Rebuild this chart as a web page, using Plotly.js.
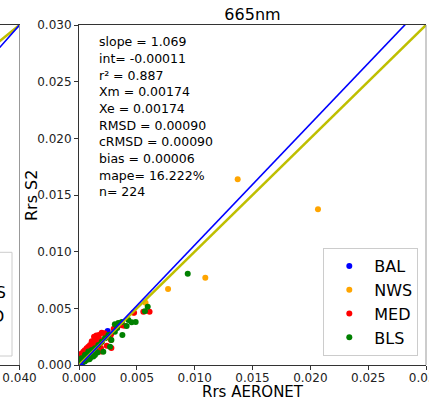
<!DOCTYPE html>
<html>
<head>
<meta charset="utf-8">
<script src="https://cdn.plot.ly/plotly-3.0.1.min.js"></script>
<style>html,body{margin:0;padding:0;background:#fff;}#chart{width:429px;height:401px;}</style>
</head>
<body>
<div id="chart"></div>
<script>
// ---- data ----
const seriesNames = ["BAL", "NWS", "MED", "BLS"];
const seriesColors = ["#0000ff", "#ffa500", "#ff0000", "#008000"];

const balX = [0.00248, 0.0002, 0.0004, 0.0006, 0.0009, 0.0012, 0.0003, 0.0015];
const balY = [0.0030, 0.0003, 0.0005, 0.0005, 0.0008, 0.0011, 0.0002, 0.0014];

const nwsX = [0.01372, 0.02066, 0.01092, 0.0077, 0.00575, 0.0047, 0.0012, 0.0004, 0.0027, 0.0018];
const nwsY = [0.01639, 0.01374, 0.0077, 0.0067, 0.0055, 0.0046, 0.0014, 0.0006, 0.0023, 0.0017];

const medX = [0.0061, 0.00556, 0.00476, 0.0039, 0.0037, 0.00277, 0.00277, 0.0018, 0.0023, 0.00219,
              0.00196, 0.00173, 0.0019, 0.00186, 0.00161, 0.00147, 0.00144, 0.0013, 0.00124, 0.0011,
              0.00095, 0.0008, 0.00066, 0.0005, 0.00037, 0.0002, 0.00009, 0.00005, 0.0019, 0.0024,
              0.0026, 0.0015, 0.0012, 0.0009, 0.00196, 0.0028, 0.0030, 0.00147];
const medY = [0.0047, 0.0047, 0.0046, 0.00347, 0.0035, 0.0027, 0.0022, 0.0013, 0.0025, 0.0028,
              0.00285, 0.00265, 0.00147, 0.0022, 0.00191, 0.00162, 0.00235, 0.0025, 0.00206, 0.0021,
              0.00176, 0.0016, 0.00147, 0.0013, 0.00117, 0.0010, 0.00088, 0.0006, 0.0012, 0.0017,
              0.0026, 0.0026, 0.0018, 0.0014, 0.00206, 0.0015, 0.0032, 0.0022];

const blsX = [0.0094, 0.00594, 0.0057, 0.0049, 0.00455, 0.00427, 0.00412, 0.00375, 0.0034, 0.0033,
              0.0031, 0.00268, 0.00254, 0.00225, 0.0021, 0.00196, 0.00167, 0.00138, 0.00138, 0.00124,
              0.0011, 0.00095, 0.00081, 0.00066, 0.00052, 0.00023, 0.00002, 0.0037, 0.0028, 0.0016,
              0.0005, 0.0009, 0.0031];
const blsY = [0.00806, 0.00515, 0.00474, 0.0038, 0.00377, 0.00397, 0.00344, 0.00265, 0.0037, 0.00326,
              0.00294, 0.00162, 0.00265, 0.00235, 0.00117, 0.00206, 0.00176, 0.00147, 0.00088, 0.00074,
              0.00132, 0.0006, 0.0012, 0.00044, 0.0009, 0.0006, 0.0003, 0.0038, 0.0022, 0.0011,
              0.0003, 0.0005, 0.0036];

const regSlope = [1.069];
const regInt = [-0.00011];

const statsLines = ["slope = 1.069", "int= -0.00011", "r\u00b2 = 0.887", "Xm = 0.00174", "Xe = 0.00174",
                    "RMSD = 0.00090", "cRMSD = 0.00090", "bias = 0.00006", "mape= 16.222%", "n= 224"];

const axisRange = [0, 0.030];
const tickVals = [0, 0.005, 0.010, 0.015, 0.020, 0.025, 0.030];
const tickText = ["0.000", "0.005", "0.010", "0.015", "0.020", "0.025", "0.030"];
const xTitle = "Rrs AERONET";
const yTitle = "Rrs S2";
const chartTitle = "665nm";

// left (neighbouring) panel fragment
const leftRangeY = [0, 0.040];
const leftTickVals = [0.040];
const leftTickText = ["0.040"];
const leftRegSlope = [1.4];
const leftRegInt = [-0.016];

// ---- layout helpers ----
const W = 429, H = 401;
const mT = 25, mB = 36;
const plotH = H - mT - mB;
const px = v => v / W;
const py = v => (H - mB - v) / plotH;
const FONT = "DejaVu Sans";

const xs = [balX, nwsX, medX, blsX];
const ys = [balY, nwsY, medY, blsY];

const traces = [];
for (let i = 0; i < seriesNames.length; i++) {
  traces.push({
    type: "scatter", mode: "markers", x: xs[i], y: ys[i], name: seriesNames[i],
    marker: {color: seriesColors[i], size: 6}, xaxis: "x", yaxis: "y"
  });
}
// 1:1 line
traces.push({type: "scatter", mode: "lines", x: axisRange, y: axisRange,
  line: {color: "#bfbf00", width: 2.5}, showlegend: false, hoverinfo: "skip", xaxis: "x", yaxis: "y"});
// regression line
traces.push({type: "scatter", mode: "lines", x: axisRange,
  y: axisRange.map(v => regSlope[0] * v + regInt[0]),
  line: {color: "#0000ff", width: 1.6}, showlegend: false, hoverinfo: "skip", xaxis: "x", yaxis: "y"});

// left panel lines
const leftX = [0.0, 0.040];
traces.push({type: "scatter", mode: "lines", x: leftX, y: leftX,
  line: {color: "#bfbf00", width: 2.5}, showlegend: false, hoverinfo: "skip", xaxis: "x2", yaxis: "y2"});
traces.push({type: "scatter", mode: "lines", x: leftX,
  y: leftX.map(v => leftRegSlope[0] * v + leftRegInt[0]),
  line: {color: "#0000ff", width: 1.6}, showlegend: false, hoverinfo: "skip", xaxis: "x2", yaxis: "y2"});

const annotations = statsLines.map((t, i) => ({
  text: t, xref: "paper", yref: "paper", x: px(97), y: py(41.7 + i * 16.67),
  xanchor: "left", yanchor: "middle", showarrow: false,
  font: {family: FONT, size: 12.5, color: "#000"}
}));
// axis titles
annotations.push({text: xTitle, xref: "paper", yref: "paper", x: px(252.5), y: py(392),
  xanchor: "center", yanchor: "middle", showarrow: false,
  font: {family: FONT, size: 15, color: "#000"}});
annotations.push({text: yTitle, xref: "paper", yref: "paper", x: px(31), y: py(195),
  xanchor: "center", yanchor: "middle", showarrow: false, textangle: -90,
  font: {family: FONT, size: 16, color: "#000"}});
// fragment of the neighbouring legend
const legYs = [267.7, 292, 316.7, 341];
seriesNames.forEach((n, i) => annotations.push({
  text: n, xref: "paper", yref: "paper", x: px(-33.6), y: py(legYs[i]),
  xanchor: "left", yanchor: "middle", showarrow: false,
  font: {family: FONT, size: 16, color: "#000"}
}));

const layout = {
  width: W, height: H,
  margin: {l: 0, r: 0, t: mT, b: mB, pad: 0, autoexpand: false},
  paper_bgcolor: "#fff", plot_bgcolor: "#fff",
  font: {family: FONT, size: 12, color: "#222"},
  showlegend: true,
  title: {text: chartTitle, font: {family: FONT, size: 16, color: "#000"},
          x: (79 + 426) / 2 / W, xanchor: "center", y: 1 - 14 / H, yanchor: "middle"},
  xaxis: {
    domain: [px(79), px(426)], range: axisRange, anchor: "y",
    tickvals: tickVals, ticktext: tickText, ticks: "outside", ticklen: 4, tickcolor: "#333",
    ticklabeloverflow: "allow", ticklabelstandoff: -2,
    showgrid: false, zeroline: false, showline: true, linecolor: "#333", linewidth: 1, mirror: true,
    tickfont: {family: FONT, size: 12, color: "#222"},
    automargin: false, fixedrange: true
  },
  yaxis: {
    domain: [0, 1], range: axisRange, anchor: "x",
    tickvals: tickVals, ticktext: tickText, ticks: "outside", ticklen: 4, tickcolor: "#333",
    ticklabeloverflow: "allow",
    showgrid: false, zeroline: false, showline: true, linecolor: "#333", linewidth: 1,
    tickfont: {family: FONT, size: 12, color: "#222"},
    automargin: false, fixedrange: true
  },
  xaxis2: {
    domain: [0, px(19.5)], range: [0.03814, 0.040], anchor: "y2",
    tickvals: leftTickVals, ticktext: leftTickText, ticks: "outside", ticklen: 4, tickcolor: "#333",
    ticklabeloverflow: "allow", ticklabelstandoff: -2,
    showgrid: false, zeroline: false, showline: true, linecolor: "#333", linewidth: 1, mirror: true,
    tickfont: {family: FONT, size: 12, color: "#222"}, automargin: false, fixedrange: true
  },
  yaxis2: {
    domain: [0, 1], range: leftRangeY, anchor: "x2", showticklabels: false, ticks: "",
    showgrid: false, zeroline: false, showline: false, fixedrange: true
  },
  legend: {
    x: px(418.3), xanchor: "right", y: py(356), yanchor: "bottom",
    bgcolor: "#fff", bordercolor: "#ccc", borderwidth: 1,
    font: {family: FONT, size: 16, color: "#000"}, itemwidth: 40, tracegroupgap: 0
  },
  shapes: [
    {type: "line", xref: "paper", yref: "paper", x0: px(426), x1: px(426), y0: 0, y1: 1,
     line: {color: "#999", width: 1}},
    {type: "line", xref: "paper", yref: "paper", x0: px(19.5), x1: px(19.5), y0: 0, y1: 1,
     line: {color: "#999", width: 1}},
    {type: "rect", xref: "paper", yref: "paper", x0: px(-100), x1: px(12), y0: py(356), y1: py(252.3),
     line: {color: "#ccc", width: 1}, fillcolor: "#fff", layer: "below"}
  ],
  annotations: annotations
};

Plotly.newPlot("chart", traces, layout, {displayModeBar: false, staticPlot: true});
</script>
</body>
</html>
